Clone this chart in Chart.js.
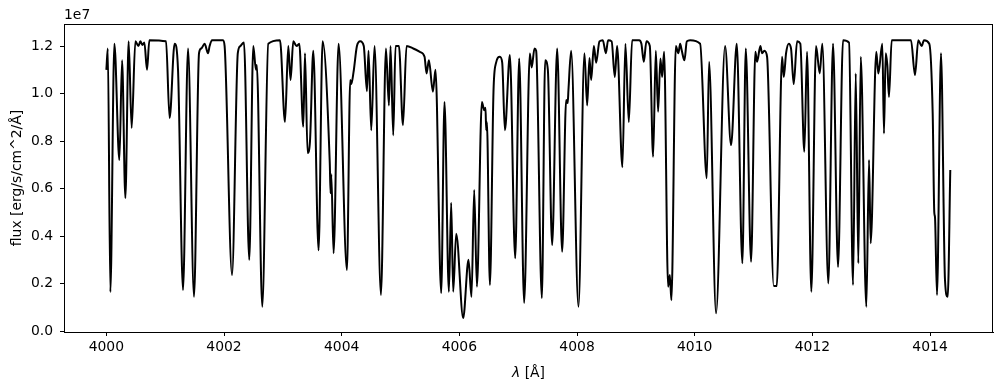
<!DOCTYPE html>
<html lang="en">

<head>
    <meta charset="UTF-8">
    <title>Spectrum</title>
    <script src="https://cdn.jsdelivr.net/npm/chart.js"></script>
    <style>
        html, body {
            margin: 0;
            padding: 0;
            background: #fff;
        }

        .chart-container {
            width: 1003px;
            height: 390px;
        }
    </style>
</head>

<body>
    <div class="chart-container"><canvas id="specChart"></canvas></div>

    <script>
        // wavelength [Å]
        const wavelength = [
            4000.000, 4000.025, 4000.068, 4000.136, 4000.221, 4000.267, 4000.323, 4000.379, 4000.430, 4000.493,
            4000.544, 4000.578, 4000.612, 4000.646, 4000.691, 4000.731, 4001.014, 4001.075, 4001.160, 4001.218,
            4001.303, 4001.388, 4001.490, 4001.575, 4001.614, 4001.670, 4001.728, 4001.755, 4001.796, 4001.983,
            4002.010, 4002.136, 4002.234, 4002.277, 4002.339, 4002.429, 4002.497, 4002.543, 4002.557, 4002.650,
            4002.752, 4002.951, 4003.036, 4003.092, 4003.131, 4003.177, 4003.233, 4003.279, 4003.347, 4003.376,
            4003.420, 4003.461, 4003.517, 4003.607, 4003.675, 4003.797, 4003.811, 4003.823, 4003.862, 4003.947,
            4004.089, 4004.145, 4004.162, 4004.201, 4004.259, 4004.315, 4004.375, 4004.429, 4004.456, 4004.502,
            4004.558, 4004.667, 4004.752, 4004.803, 4004.830, 4004.876, 4004.915, 4004.973, 4005.041, 4005.102,
            4005.216, 4005.334, 4005.408, 4005.442, 4005.482, 4005.550, 4005.594, 4005.691, 4005.747, 4005.822,
            4005.861, 4005.895, 4005.946, 4006.065, 4006.155, 4006.206, 4006.252, 4006.298, 4006.383, 4006.422,
            4006.444, 4006.456, 4006.468, 4006.519, 4006.580, 4006.621, 4006.689, 4006.728, 4006.774, 4006.858,
            4006.949, 4007.017, 4007.101, 4007.198, 4007.229, 4007.277, 4007.305, 4007.402, 4007.458, 4007.504,
            4007.577, 4007.662, 4007.747, 4007.815, 4007.841, 4007.854, 4007.900, 4008.024, 4008.126, 4008.172,
            4008.211, 4008.240, 4008.286, 4008.325, 4008.381, 4008.438, 4008.490, 4008.528, 4008.588, 4008.642,
            4008.681, 4008.771, 4008.822, 4008.880, 4008.936, 4009.055, 4009.094, 4009.135, 4009.179, 4009.237,
            4009.293, 4009.339, 4009.378, 4009.417, 4009.446, 4009.480, 4009.548, 4009.577, 4009.604, 4009.679,
            4009.723, 4009.752, 4009.781, 4009.825, 4009.866, 4009.922, 4010.092, 4010.205, 4010.244, 4010.363,
            4010.516, 4010.618, 4010.715, 4010.810, 4010.868, 4010.958, 4011.031, 4011.060, 4011.116, 4011.145,
            4011.184, 4011.230, 4011.344, 4011.395, 4011.485, 4011.514, 4011.553, 4011.598, 4011.637, 4011.683,
            4011.740, 4011.795, 4011.863, 4011.909, 4011.982, 4012.062, 4012.125, 4012.169, 4012.271, 4012.351,
            4012.436, 4012.521, 4012.623, 4012.691, 4012.737, 4012.781, 4012.822, 4012.917, 4012.963, 4012.991,
            4013.086, 4013.121, 4013.189, 4013.217, 4013.246, 4013.274, 4013.302, 4013.348, 4013.676, 4013.744,
            4013.800, 4013.858, 4013.897, 4013.987, 4014.045, 4014.072, 4014.084, 4014.118, 4014.186, 4014.254,
            4014.300, 4014.344
        ];

        // flux in units of 1e7 erg/s/cm^2/Å
        const flux = [
            1.10, 1.19, 0.164, 1.21, 0.72, 1.14, 0.56, 1.22, 0.855, 1.22,
            1.20, 1.22, 1.205, 1.215, 1.10, 1.225, 1.22, 0.897, 1.21, 1.10,
            0.173, 1.19, 0.144, 1.17, 1.19, 1.21, 1.17, 1.20, 1.225, 1.225,
            1.20, 0.236, 1.17, 1.20, 1.215, 0.30, 1.20, 1.10, 1.12, 0.102,
            1.21, 1.225, 0.88, 1.20, 1.057, 1.22, 1.20, 1.21, 0.86, 1.17,
            0.75, 0.80, 1.18, 0.34, 1.22, 0.71, 0.58, 0.66, 0.328, 1.21,
            0.257, 1.057, 1.04, 1.09, 1.20, 1.22, 1.20, 1.01, 1.18, 0.846,
            1.20, 0.152, 1.19, 0.95, 1.20, 0.825, 1.20, 1.20, 0.867, 1.20,
            1.19, 1.175, 1.155, 1.085, 1.14, 1.008, 1.10, 0.16, 0.965, 0.165,
            0.54, 0.165, 0.41, 0.055, 0.30, 0.144, 0.594, 0.187, 0.965, 0.93,
            0.94, 0.846, 0.88, 0.194, 1.01, 1.127, 1.155, 1.13, 0.846, 1.162,
            0.307, 1.148, 0.118, 1.169, 1.11, 1.19, 1.18, 0.139, 1.14, 1.10,
            0.362, 1.19, 0.334, 0.973, 0.96, 1.015, 1.18, 0.102, 1.17, 0.95,
            1.15, 1.057, 1.20, 1.13, 1.22, 1.225, 1.17, 1.225, 1.22, 1.07,
            1.20, 0.69, 1.21, 0.88, 1.225, 1.225, 1.21, 1.134, 1.22, 1.20,
            0.734, 1.18, 0.924, 1.148, 1.07, 1.176, 0.187, 0.236, 0.13, 1.20,
            1.17, 1.21, 1.18, 1.14, 1.22, 1.225, 1.21, 0.643, 1.134, 0.075,
            1.20, 0.783, 1.21, 0.285, 1.19, 0.292, 1.176, 1.134, 1.20, 1.17,
            1.18, 1.155, 0.19, 0.19, 1.155, 1.07, 1.17, 1.21, 1.19, 1.04,
            1.22, 1.21, 0.755, 1.176, 0.165, 1.20, 1.085, 1.21, 0.20, 1.21,
            0.27, 1.225, 1.215, 0.194, 1.085, 0.285, 1.155, 0.102, 0.72, 0.37,
            1.176, 1.085, 1.21, 0.832, 1.17, 1.12, 0.986, 1.225, 1.225, 1.078,
            1.225, 1.20, 1.225, 1.21, 0.916, 0.50, 0.48, 0.152, 1.17, 0.215,
            0.144, 0.678
        ];

        const xTicks = [4000, 4002, 4004, 4006, 4008, 4010, 4012, 4014];
        const yTicks = [0.0, 0.2, 0.4, 0.6, 0.8, 1.0, 1.2];

        const FONT = '"DejaVu Sans", sans-serif';
        const FS = 13.9;

        // box around plot + offset text + axis labels (matplotlib look)
        const decorPlugin = {
            id: 'decor',
            afterDraw(chart) {
                const { ctx, chartArea: a } = chart;
                ctx.save();
                ctx.strokeStyle = '#000';
                ctx.lineWidth = 1;
                ctx.strokeRect(a.left + 0.5, a.top + 0.5, a.right - a.left - 1, a.bottom - a.top);

                ctx.fillStyle = '#000';
                ctx.font = FS + 'px ' + FONT;
                ctx.textAlign = 'left';
                ctx.textBaseline = 'alphabetic';
                ctx.fillText('1e7', a.left, a.top - 5);

                // x label: italic lambda then " [Å]"
                const italic = 'italic ' + FS + 'px ' + FONT;
                const normal = FS + 'px ' + FONT;
                ctx.font = italic;
                const w1 = ctx.measureText('λ').width;
                ctx.font = normal;
                const w2 = ctx.measureText(' [Å]').width;
                let x0 = (a.left + a.right) / 2 - (w1 + w2) / 2;
                ctx.font = italic;
                ctx.fillText('λ', x0, 377);
                ctx.font = normal;
                ctx.fillText(' [Å]', x0 + w1, 377);

                // y label
                ctx.translate(17, (a.top + a.bottom) / 2);
                ctx.rotate(-Math.PI / 2);
                ctx.textAlign = 'center';
                ctx.textBaseline = 'middle';
                ctx.fillText('flux [erg/s/cm^2/Å]', 0, 0);
                ctx.restore();
            }
        };

        const points = wavelength.map((w, i) => ({ x: w, y: flux[i] }));

        new Chart(document.getElementById('specChart').getContext('2d'), {
            type: 'line',
            data: {
                datasets: [{
                    data: points,
                    borderColor: '#000',
                    borderWidth: 2,
                    pointRadius: 0,
                    fill: false,
                    cubicInterpolationMode: 'monotone'
                }]
            },
            options: {
                responsive: true,
                maintainAspectRatio: false,
                animation: false,
                layout: { padding: { left: 0, right: 10, top: 24, bottom: 0 } },
                plugins: { legend: { display: false }, tooltip: { enabled: false } },
                scales: {
                    x: {
                        type: 'linear',
                        min: 3999.28,
                        max: 4015.07,
                        afterBuildTicks: s => { s.ticks = xTicks.map(v => ({ value: v })); },
                        afterFit: s => { s.height = 58; },
                        grid: { display: true, drawOnChartArea: false, drawTicks: true, tickLength: 4, color: '#000' },
                        border: { display: true, color: '#000' },
                        ticks: {
                            color: '#000', padding: 3, maxRotation: 0,
                            font: { family: FONT, size: FS },
                            callback: v => String(v)
                        }
                    },
                    y: {
                        min: -0.004,
                        max: 1.293,
                        afterBuildTicks: s => { s.ticks = yTicks.map(v => ({ value: v })); },
                        afterFit: s => { s.width = 64; },
                        grid: { display: true, drawOnChartArea: false, drawTicks: true, tickLength: 4, color: '#000' },
                        border: { display: true, color: '#000' },
                        ticks: {
                            color: '#000', padding: 7,
                            font: { family: FONT, size: FS },
                            callback: v => v.toFixed(1)
                        }
                    }
                }
            },
            plugins: [decorPlugin]
        });
    </script>
</body>

</html>
